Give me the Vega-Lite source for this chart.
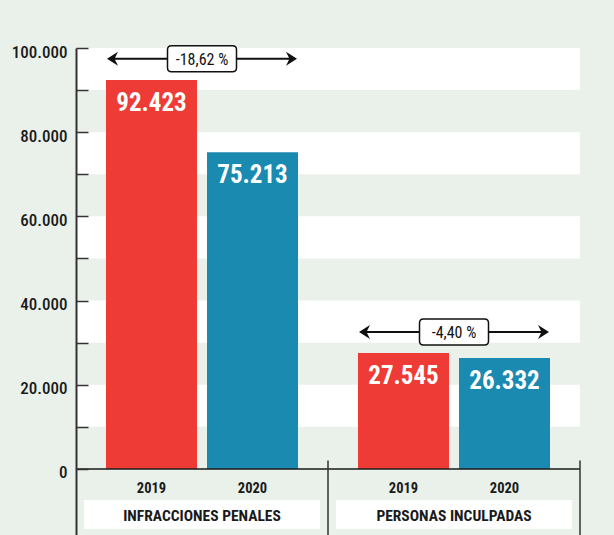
{
  "$schema": "https://vega.github.io/schema/vega-lite/v6.json",
  "autosize": {"type": "none"},
  "padding": {"left": 76, "top": 48, "right": 34, "bottom": 0},
  "width": 504,
  "height": 487,
  "background": "#eaf1ea",
  "config": {
    "view": {"stroke": null},
    "font": "Roboto Condensed, Liberation Sans Narrow, Liberation Sans, sans-serif",
    "locale": {"number": {"decimal": ",", "thousands": ".", "grouping": [3], "currency": ["", " €"]}}
  },
  "datasets": {
    "bars": [
      {"group": "INFRACCIONES PENALES", "year": "2019", "value": 92423},
      {"group": "INFRACCIONES PENALES", "year": "2020", "value": 75213},
      {"group": "PERSONAS INCULPADAS", "year": "2019", "value": 27545},
      {"group": "PERSONAS INCULPADAS", "year": "2020", "value": 26332}
    ],
    "changes": [
      {"group": "INFRACCIONES PENALES", "change": "-18,62 %"},
      {"group": "PERSONAS INCULPADAS", "change": "-4,40 %"}
    ],
    "bands": [
      {"lo": 90000, "hi": 100000},
      {"lo": 70000, "hi": 80000},
      {"lo": 50000, "hi": 60000},
      {"lo": 30000, "hi": 40000},
      {"lo": 10000, "hi": 20000}
    ]
  },
  "layer": [
    {
      "data": {"name": "bands"},
      "mark": {"type": "rect", "color": "#ffffff"},
      "encoding": {
        "x": {"value": 0},
        "x2": {"value": "width"},
        "y": {
          "field": "lo", "type": "quantitative", "title": null,
          "scale": {"domain": [-15700, 100000], "nice": false, "zero": false},
          "axis": {
            "values": [0, 10000, 20000, 30000, 40000, 50000, 60000, 70000, 80000, 90000, 100000],
            "format": ",d",
            "labelExpr": "datum.value % 20000 === 0 ? datum.label : ''",
            "title": null,
            "grid": false,
            "zindex": 1,
            "domainColor": "#333333",
            "domainWidth": 2,
            "tickColor": "#333333",
            "tickWidth": 1.5,
            "tickSize": -12,
            "labelPadding": 21,
            "labelOffset": 4,
            "labelFont": "Roboto Condensed, Liberation Sans Narrow, Liberation Sans, sans-serif",
            "labelFontSize": 17,
            "labelFontWeight": 500,
            "labelColor": "#1a1a1a",
            "encode": {"ticks": {"update": {"x2": {"signal": "datum.value % 20000 === 0 ? 12 : 6"}}}}
          }
        },
        "y2": {"field": "hi"}
      }
    },
    {
      "data": {"name": "bars"},
      "mark": {"type": "bar"},
      "encoding": {
        "x": {"field": "group", "type": "nominal", "scale": {"paddingInner": 0, "paddingOuter": 0}, "axis": null},
        "xOffset": {"field": "year", "type": "nominal", "scale": {"paddingInner": 0.099, "paddingOuter": 0.297}},
        "y": {"field": "value", "type": "quantitative", "title": null},
        "color": {"field": "year", "type": "nominal", "scale": {"domain": ["2019", "2020"], "range": ["#ef3b36", "#1a8ab0"]}, "legend": null}
      }
    },
    {
      "data": {"name": "bars"},
      "mark": {"type": "text", "color": "#ffffff", "fontSize": 25, "fontWeight": "bold", "baseline": "alphabetic", "align": "center", "dy": 31},
      "encoding": {
        "x": {"field": "group", "type": "nominal", "axis": null},
        "xOffset": {"field": "year", "type": "nominal"},
        "y": {"field": "value", "type": "quantitative", "title": null},
        "text": {"field": "value", "type": "quantitative", "format": ",d"}
      }
    },
    {
      "data": {"name": "bars"},
      "mark": {"type": "text", "color": "#1a1a1a", "fontSize": 14.5, "fontWeight": "bold", "baseline": "alphabetic", "align": "center", "dy": 24},
      "encoding": {
        "x": {"field": "group", "type": "nominal", "axis": null},
        "xOffset": {"field": "year", "type": "nominal"},
        "y": {"datum": 0, "title": null},
        "text": {"field": "year"}
      }
    },
    {
      "data": {"values": [{}]},
      "mark": {"type": "rule", "color": "#1a1a1a", "strokeWidth": 1.5},
      "encoding": {
        "x": {"value": 0},
        "x2": {"value": "width"},
        "y": {"datum": 0, "title": null}
      }
    },
    {
      "data": {"name": "changes"},
      "mark": {"type": "rule", "color": "#333333", "strokeWidth": 1.5},
      "encoding": {
        "x": {"field": "group", "type": "nominal", "bandPosition": 1, "axis": null},
        "y": {"datum": 2000, "title": null},
        "y2": {"datum": -15700}
      }
    },
    {
      "data": {"name": "changes"},
      "mark": {"type": "bar", "color": "#ffffff", "width": {"band": 0.936}},
      "encoding": {
        "x": {"field": "group", "type": "nominal", "axis": null},
        "y": {"datum": -7360, "title": null},
        "y2": {"datum": -14250}
      }
    },
    {
      "data": {"name": "changes"},
      "mark": {"type": "text", "color": "#1a1a1a", "fontSize": 15.5, "fontWeight": "bold", "baseline": "alphabetic", "align": "center"},
      "encoding": {
        "x": {"field": "group", "type": "nominal", "axis": null},
        "y": {"datum": -12350, "title": null},
        "text": {"field": "group"}
      }
    },
    {
      "data": {"name": "bars"},
      "transform": [
        {"aggregate": [{"op": "max", "field": "value", "as": "top"}], "groupby": ["group"]},
        {"calculate": "datum.top + 5000", "as": "arrowY"},
        {"lookup": "group", "from": {"data": {"name": "changes"}, "key": "group", "fields": ["change"]}}
      ],
      "encoding": {
        "x": {"field": "group", "type": "nominal", "axis": null},
        "y": {"field": "arrowY", "type": "quantitative", "title": null}
      },
      "layer": [
        {
          "mark": {"type": "point", "shape": "M-95,0L-84,-7L-87,-1L87,-1L84,-7L95,0L84,7L87,1L-87,1L-84,7Z", "size": 4, "filled": true, "color": "#111111", "opacity": 1, "strokeWidth": 0}
        },
        {
          "mark": {"type": "point", "shape": "M-30.5,-13L30.5,-13Q34.5,-13,34.5,-9L34.5,9Q34.5,13,30.5,13L-30.5,13Q-34.5,13,-34.5,9L-34.5,-9Q-34.5,-13,-30.5,-13Z", "size": 4, "filled": true, "fill": "#ffffff", "stroke": "#111111", "strokeWidth": 1.5, "opacity": 1}
        },
        {
          "mark": {"type": "text", "color": "#111111", "fontSize": 16, "baseline": "middle", "align": "center", "dy": 1},
          "encoding": {"text": {"field": "change"}}
        }
      ]
    }
  ]
}
